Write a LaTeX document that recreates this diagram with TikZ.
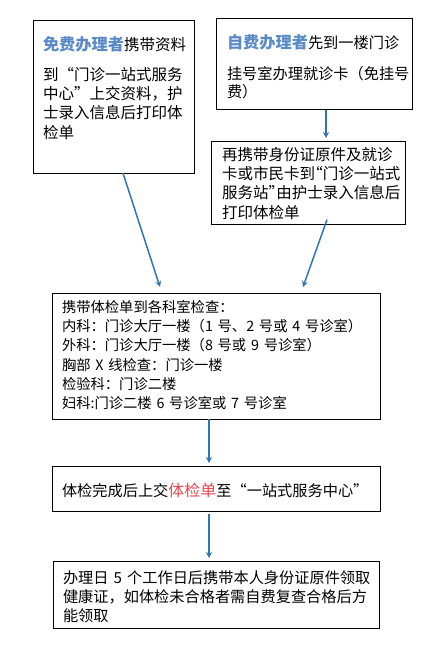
\documentclass[tikz,border=0pt]{standalone}
\usepackage{fontspec}
\newfontfamily\cjk{Noto Sans CJK SC}
\usetikzlibrary{arrows.meta}
\definecolor{headblue}{HTML}{5A8AC6}
\definecolor{flowblue}{HTML}{2E75B6}
\definecolor{notered}{HTML}{E8474F}
\newcommand{\boxtop}[1]{\rule{0pt}{#1}}
\newcommand{\boxbot}[1]{\rule[-#1]{0pt}{0pt}}
\newcommand{\who}[1]{{\bfseries\fontsize{16.2pt}{19.3pt}\selectfont\color{headblue}#1}}
\newcommand{\openq}{\makebox[1em][r]{“}}
\newcommand{\closeq}{\makebox[1em][l]{”}}
\newcommand{\thinopenq}{\makebox[0.5em][r]{“}}
\newcommand{\thincloseq}{\makebox[0.5em][l]{”}}

\begin{document}
\begin{tikzpicture}[x=1pt,y=-1pt,
  stepbox/.style={draw,line width=1pt,anchor=north west,outer sep=0pt,
    inner xsep=10pt,inner ysep=0pt,align=left,
    font=\cjk\fontsize{15.2pt}{19.3pt}\selectfont},
  flow/.style={draw=flowblue,line width=1.5pt,-{Stealth[length=6pt,width=6pt]}}]
  \useasboundingbox (0,0) rectangle (446,650);

  % Two ways in
  \node[stepbox,text width=141pt,font=\cjk\fontsize{15.5pt}{19.3pt}\selectfont] (free) at (33,21)
    {\boxtop{30pt}\who{免费办理者}携带资料\\[10pt]
     到\openq 门诊一站式服务\\
     中心\closeq 上交资料，护\\
     士录入信息后打印体\\
     检单\boxbot{35pt}};
  \node[stepbox,inner xsep=11pt,text width=174pt] (self) at (216,19)
    {\boxtop{30pt}\who{自费办理者}先到一楼门诊\\[11pt]
     挂号室办理就诊卡（免挂号\\[-1pt]
     费）\boxbot{12pt}};
  \node[stepbox,inner xsep=11pt,text width=172pt,font=\cjk\fontsize{15.5pt}{19.4pt}\selectfont] (again) at (211,141)
    {\boxtop{19pt}再携带身份证原件及就诊\\
     卡或市民卡到\thinopenq 门诊一站式\\
     服务站\thincloseq 由护士录入信息后\\
     打印体检单\boxbot{6.5pt}};

  % Examination
  \node[stepbox,text width=308pt,font=\cjk\fontsize{14.3pt}{19.2pt}\selectfont] (check) at (52,293)
    {\boxtop{19.5pt}携带体检单到各科室检查：\\
     内科：门诊大厅一楼（1~号、2~号或~4~号诊室）\\
     外科：门诊大厅一楼（8~号或~9~号诊室）\\
     胸部~X~线检查：门诊一楼\\
     检验科：门诊二楼\\
     妇科:门诊二楼~6~号诊室或~7~号诊室\boxbot{10.5pt}};
  \node[stepbox,text width=308pt] (hand) at (52,466)
    {\boxtop{30pt}体检完成后上交{\color{notered}\fontsize{16pt}{19.3pt}\selectfont 体检单}至\openq 一站式服务中心\closeq\boxbot{15pt}};
  \node[stepbox,text width=306pt] (fetch) at (53,561)
    {\boxtop{22pt}办理日~5~个工作日后携带本人身份证原件领取\\
     健康证，如体检未合格者需自费复查合格后方\\
     能领取\boxbot{6.5pt}};

  % Arrows
  \draw[flow] ([xshift=90pt]free.south west) -- ([xshift=108pt,yshift=6pt]check.north west);
  \draw[flow] ([xshift=110pt]self.south west) -- ([xshift=115pt,yshift=3pt]again.north west);
  \draw[flow] ([xshift=116pt,yshift=5pt]again.south west) -- ([xshift=251pt,yshift=6pt]check.north west);
  \draw[flow] ([xshift=157pt]check.south west) -- ([xshift=157pt,yshift=3pt]hand.north west);
  \draw[flow] ([xshift=157pt,yshift=-3pt]hand.south west) -- ([xshift=156pt,yshift=3pt]fetch.north west);
\end{tikzpicture}
\end{document}
